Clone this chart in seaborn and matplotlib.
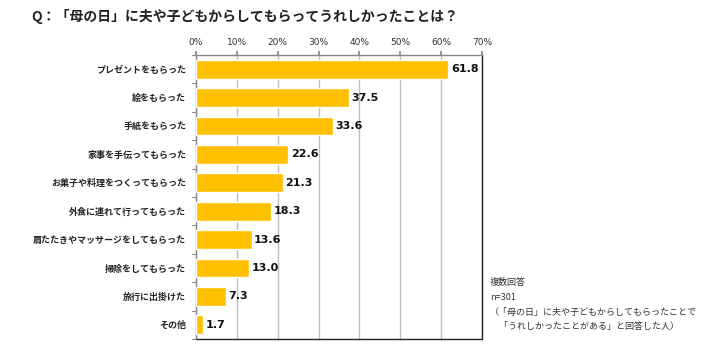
import matplotlib
matplotlib.use("Agg")
import matplotlib.pyplot as plt
import seaborn as sns
import pandas as pd

categories = [
    "プレゼントをもらった",
    "絵をもらった",
    "手紙をもらった",
    "家事を手伝ってもらった",
    "お菓子や料理をつくってもらった",
    "外食に連れて行ってもらった",
    "肩たたきやマッサージをしてもらった",
    "掃除をしてもらった",
    "旅行に出掛けた",
    "その他",
]
values = [61.8, 37.5, 33.6, 22.6, 21.3, 18.3, 13.6, 13.0, 7.3, 1.7]
tick_values = [0, 10, 20, 30, 40, 50, 60, 70]
tick_labels = ["0%", "10%", "20%", "30%", "40%", "50%", "60%", "70%"]

title = "Q：「母の日」に夫や子どもからしてもらってうれしかったことは？"
notes = [
    "複数回答",
    "n=301",
    "（「母の日」に夫や子どもからしてもらったことで",
    "　「うれしかったことがある」と回答した人）",
]

sns.set_theme(style="white")
plt.rcParams["font.family"] = ["Noto Sans CJK JP", "DejaVu Sans"]

df = pd.DataFrame({"item": categories, "pct": values})

fig = plt.figure(figsize=(7.12, 3.47), dpi=100)
ax = fig.add_axes([196 / 712, 8 / 347, 286 / 712, 284 / 347])

sns.barplot(data=df, x="pct", y="item", color="#FFC000", saturation=1,
            width=0.66, ax=ax, zorder=3)

ax.set_xlim(0, 70)
ax.set_ylim(len(categories) - 0.5, -0.5)
ax.set_xticks(tick_values)
ax.set_xticklabels(tick_labels, fontsize=6.5, color="#333333",
                   family="DejaVu Sans")
ax.xaxis.tick_top()
ax.xaxis.set_label_position("top")
ax.set_xlabel("")
ax.set_ylabel("")
ax.grid(axis="x", color="#BFBFBF", linewidth=1, zorder=0)
ax.grid(axis="y", visible=False)

ax.set_yticks(range(len(categories)))
ax.set_yticklabels(categories, fontsize=6.5, fontweight="bold", color="#222222")
ax.tick_params(axis="y", length=0, pad=7)
ax.tick_params(axis="x", length=3, color="#888888", pad=3, direction="out")

# separator ticks on the category axis
for i in range(len(categories) + 1):
    ax.plot([-0.9, 0], [i - 0.5, i - 0.5], color="#888888", lw=0.8,
            clip_on=False, zorder=4)

for side in ("left", "top"):
    ax.spines[side].set_color("#888888")
    ax.spines[side].set_linewidth(1)
for side in ("right", "bottom"):
    ax.spines[side].set_color("#222222")
    ax.spines[side].set_linewidth(1)

for i, v in enumerate(values):
    ax.text(v + 0.6, i, f"{v:.1f}", va="center", ha="left",
            fontsize=8, fontweight="bold", color="#111111",
            family="DejaVu Sans")

fig.text(31 / 712, 1 - 16 / 347, title, fontsize=10, fontweight="bold",
         ha="left", va="center", color="#222222")

for k, line in enumerate(notes):
    fig.text(490 / 712, 1 - (282 + 15 * k) / 347, line, fontsize=6.5,
             ha="left", va="center", color="#333333")

fig.savefig("out.png", dpi=100)
